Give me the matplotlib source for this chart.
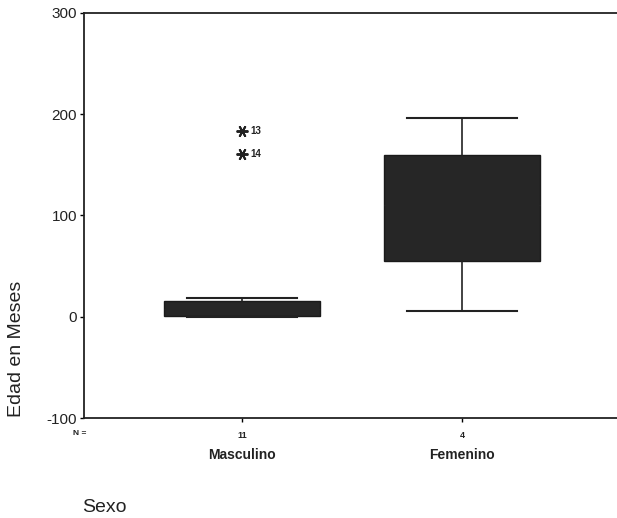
import numpy as np
import matplotlib.pyplot as plt

plt.rcParams['font.family'] = ['Liberation Sans', 'DejaVu Sans']
plt.rcParams['axes.unicode_minus'] = False

# Datos
grupos = ['Masculino', 'Femenino']
n_casos = [11, 4]
bigote_inf = [0, 6]
q1 = [1, 55]
mediana = [8, 110]
q3 = [16, 160]
bigote_sup = [19, 196]
atipicos = [[183, 161], []]
etiquetas_atipicos = [['13', '14'], []]

stats = []
for i in range(len(grupos)):
    stats.append(dict(label=grupos[i], whislo=bigote_inf[i], q1=q1[i], med=mediana[i],
                      q3=q3[i], whishi=bigote_sup[i], fliers=atipicos[i]))

fig = plt.figure(figsize=(6.17, 5.18), dpi=100)
ax = fig.add_axes([0.136, 0.193, 0.87, 0.782])

pos = np.arange(1, len(grupos) + 1)
ax.bxp(stats, positions=pos, widths=0.71, patch_artist=True, showfliers=False,
       boxprops=dict(facecolor='#262626', edgecolor='#1a1a1a', linewidth=1),
       medianprops=dict(color='#262626', linewidth=1),
       whiskerprops=dict(color='#222222', linewidth=1.2),
       capprops=dict(color='#222222', linewidth=1.5),
       capwidths=0.5)

# atipicos con su numero de caso
for i in range(len(grupos)):
    for v, lab in zip(atipicos[i], etiquetas_atipicos[i]):
        ax.plot(pos[i], v, marker=(6, 2, 90), color='#222222', markersize=8.5, markeredgewidth=1.4)
        ax.text(pos[i] + 0.035, v, lab, fontsize=7, fontweight='bold', va='center', color='#222222')

ax.set_ylim(-100, 300)
ax.set_xlim(0.28, 2.72)
ax.set_yticks([-100, 0, 100, 200, 300])
ax.tick_params(axis='y', labelsize=11, length=3, width=1, pad=2, labelcolor='#222222')
ax.set_xticks(pos)
ax.set_xticklabels([str(n) for n in n_casos], fontsize=6.5, fontweight='bold', color='#222222')
ax.tick_params(axis='x', length=3, width=1, pad=6)

for s in ['left', 'bottom', 'top']:
    ax.spines[s].set_linewidth(1.3)
    ax.spines[s].set_color('#222222')
ax.spines['right'].set_visible(False)

for i, g in enumerate(grupos):
    ax.text(pos[i], -0.092, g, transform=ax.get_xaxis_transform(), ha='center', va='center',
            fontsize=10, fontweight='bold', color='#222222')
ax.text(-0.02, -0.037, 'N =', transform=ax.transAxes, ha='left', va='center',
        fontsize=6, fontweight='bold', color='#222222')

fig.text(0.026, 0.326, 'Edad en Meses', rotation=90, ha='center', va='center',
         fontsize=14, color='#222222')
fig.text(0.133, 0.021, 'Sexo', ha='left', va='center', fontsize=14, color='#222222')

fig.savefig('out.png', dpi=100)
